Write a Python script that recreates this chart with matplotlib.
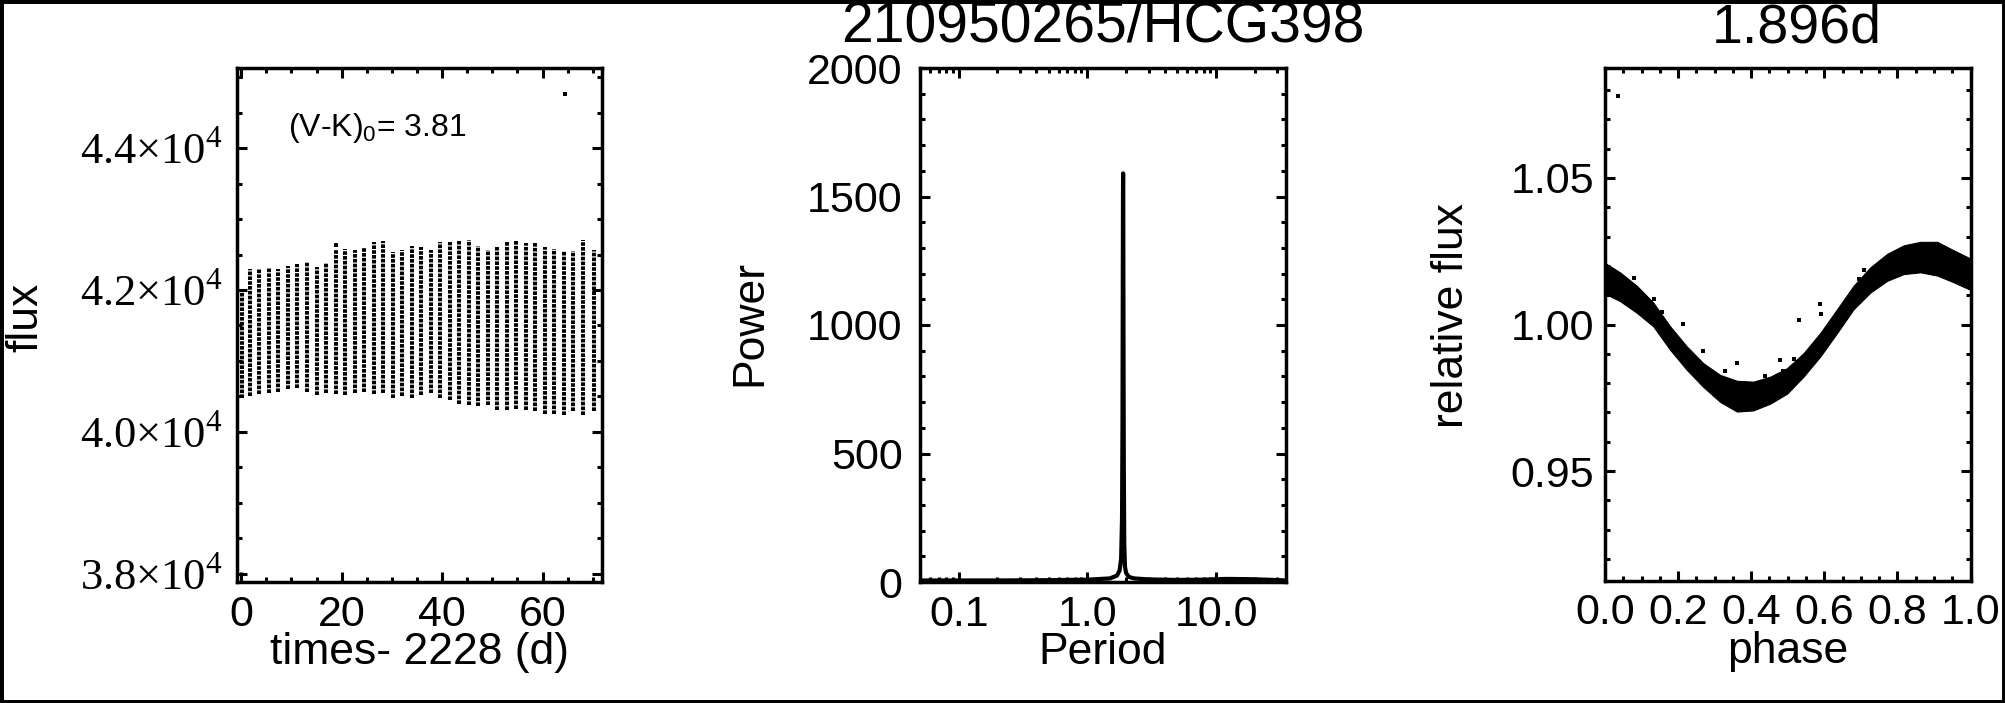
import matplotlib
matplotlib.use("Agg")
import matplotlib.pyplot as plt
from matplotlib.ticker import MultipleLocator, FixedLocator, FuncFormatter, LogLocator, NullFormatter
from matplotlib.patches import Rectangle

# ---------------- data ----------------
# Light curve: each rotation cycle shows as a vertical column of points
cycle_time = [0.1, 1.75, 3.61, 5.54, 7.40, 9.26, 11.18, 13.04, 15.03, 16.89,
              18.82, 20.68, 22.60, 24.53, 26.39, 28.31, 30.17, 32.10, 34.02, 35.88,
              37.81, 39.67, 41.59, 43.45, 45.31, 47.24, 49.10, 51.02, 52.88, 54.81,
              56.67, 58.59, 60.52, 62.38, 64.30, 66.16, 68.15, 70.15]
cycle_max = [41980, 42290, 42290, 42310, 42290, 42340, 42370, 42390, 42330, 42380,
             42580, 42580, 42570, 42600, 42670, 42690, 42530, 42560, 42620, 42610,
             42570, 42680, 42670, 42690, 42710, 42620, 42560, 42610, 42670, 42690,
             42660, 42670, 42610, 42580, 42550, 42550, 42710, 42570]
cycle_min = [40480, 40500, 40530, 40550, 40560, 40600, 40620, 40570, 40520, 40550,
             40530, 40520, 40550, 40570, 40530, 40550, 40480, 40500, 40480, 40520,
             40550, 40480, 40450, 40400, 40380, 40360, 40380, 40310, 40310, 40330,
             40310, 40290, 40260, 40260, 40240, 40290, 40240, 40290]
lc_out_time = [18.8, 64.5]
lc_out_flux = [42640, 44760]
vk_text = "(V-K)$_\\mathsf{0}$= 3.81"
star_name = "210950265/HCG398"

# Periodogram
period = [0.05, 0.08, 0.1, 0.2, 0.5, 1.0, 1.5, 1.7, 1.78, 1.83, 1.86, 1.875, 1.885,
          1.892, 1.896, 1.902, 1.91, 1.92, 1.935, 1.96, 2.0, 2.1, 2.3, 3.0, 5.0,
          8.0, 12.0, 18.0, 25.0, 35.0]
power = [6, 6, 6, 6, 7, 9, 14, 25, 45, 90, 250, 600, 1150, 1500, 1590, 1400, 900,
         450, 150, 60, 35, 20, 14, 10, 8, 9, 12, 11, 9, 6]
best_period_label = "1.896d"

# Phase-folded light curve: envelope of the dense band of points
phase_grid = [0.0, 0.041, 0.087, 0.132, 0.178, 0.224, 0.269, 0.315, 0.361, 0.406,
              0.452, 0.498, 0.543, 0.589, 0.635, 0.680, 0.726, 0.772, 0.817, 0.863,
              0.909, 0.954, 1.0]
phase_upper = [1.0210, 1.0178, 1.0132, 1.0075, 0.9994, 0.9925, 0.9868, 0.9828,
               0.9808, 0.9805, 0.9822, 0.9851, 0.9902, 0.9971, 1.0052, 1.0132,
               1.0195, 1.0241, 1.0270, 1.0282, 1.0282, 1.0253, 1.0225]
phase_lower = [1.0105, 1.0080, 1.0040, 0.9994, 0.9914, 0.9845, 0.9787, 0.9736,
               0.9703, 0.9707, 0.9730, 0.9764, 0.9822, 0.9891, 0.9971, 1.0052,
               1.0109, 1.0149, 1.0172, 1.0178, 1.0167, 1.0144, 1.0118]
phase_out_x = [0.036, 0.078, 0.135, 0.155, 0.213, 0.269, 0.327, 0.361, 0.438, 0.479,
               0.487, 0.516, 0.530, 0.589, 0.591, 0.694, 0.708]
phase_out_y = [1.078, 1.0159, 1.0086, 1.0043, 1.0002, 0.9908, 0.9843, 0.9868, 0.9824,
               0.9879, 0.9843, 0.9883, 1.0015, 1.0069, 1.0037, 1.0155, 1.0187]

# ---------------- style ----------------
plt.rcParams['font.family'] = ['Liberation Sans', 'DejaVu Sans']
plt.rcParams['mathtext.fontset'] = 'custom'
plt.rcParams['mathtext.rm'] = 'Liberation Serif'
plt.rcParams['mathtext.sf'] = 'Liberation Sans'
plt.rcParams['axes.linewidth'] = 2.5

TICK = 31
LAB = 32

W, H = 2005, 703
fig = plt.figure(figsize=(W / 100, H / 100), dpi=100)


def add_ax(x0, x1, y0=68, y1=582):
    return fig.add_axes([x0 / W, 1 - y1 / H, (x1 - x0) / W, (y1 - y0) / H])


def style(ax, ypad=8):
    ax.tick_params(which='both', direction='in', top=True, right=True,
                   labelsize=TICK, width=2.2, color='black')
    ax.tick_params(which='major', length=7.5)
    ax.tick_params(which='minor', length=3.8)
    ax.tick_params(axis='x', pad=9)
    ax.tick_params(axis='y', pad=ypad)


def xlabel(ax, text, y=-0.16):
    ax.set_xlabel(text, fontsize=LAB)
    ax.xaxis.set_label_coords(0.5, y)
    ax.xaxis.label.set_verticalalignment('baseline')


def ylabel(ax, text, x, y=0.5):
    ax.set_ylabel(text, fontsize=LAB)
    ax.yaxis.set_label_coords(x, y)
    ax.yaxis.label.set_verticalalignment('center')


# ---------------- panel 1: light curve ----------------
ax1 = add_ax(236.5, 601.8)
ax1.vlines(cycle_time, cycle_min, cycle_max, colors='black', linewidth=2.9,
           linestyles=(0, (0.9, 0.3)))
ax1.plot(lc_out_time, lc_out_flux, 's', color='black', markersize=2.2, markeredgewidth=0)
ax1.set_xlim(-0.94, 71.8)
ax1.set_ylim(37887, 45127)
ax1.xaxis.set_major_locator(MultipleLocator(20))
ax1.xaxis.set_minor_locator(MultipleLocator(5))
ax1.yaxis.set_major_locator(MultipleLocator(2000))
ax1.yaxis.set_minor_locator(MultipleLocator(500))
ax1.yaxis.set_major_formatter(FuncFormatter(
    lambda v, p: r'$%.1f{\times}10^{4}$' % (v / 1e4)))
style(ax1, ypad=10)
ax1.tick_params(axis='y', labelsize=32)
xlabel(ax1, 'times- 2228 (d)')
ylabel(ax1, 'flux', -0.577, 0.515)
ax1.text(0.385, 0.883, vk_text, transform=ax1.transAxes, fontsize=23,
         ha='center', va='center')

# ---------------- panel 2: periodogram ----------------
ax2 = add_ax(920, 1286)
ax2.plot(period, power, color='black', linewidth=3.0)
ax2.set_xscale('log')
ax2.set_xlim(0.05, 35)
ax2.set_ylim(0, 2000)
ax2.xaxis.set_major_locator(FixedLocator([0.1, 1.0, 10.0]))
ax2.xaxis.set_minor_locator(LogLocator(base=10, subs=range(2, 10)))
ax2.xaxis.set_minor_formatter(NullFormatter())
ax2.xaxis.set_major_formatter(FuncFormatter(lambda v, p: '%.1f' % v))
ax2.yaxis.set_major_locator(MultipleLocator(500))
ax2.yaxis.set_minor_locator(MultipleLocator(100))
style(ax2, ypad=12.5)
xlabel(ax2, 'Period')
ylabel(ax2, 'Power', -0.464, 0.504)
ax2.set_title(star_name, fontsize=41, y=1.0506, pad=0, va='baseline')

# ---------------- panel 3: phased light curve ----------------
ax3 = add_ax(1605, 1970.5, 68, 581)
ax3.fill_between(phase_grid, phase_lower, phase_upper, color='black', linewidth=0.8)
ax3.plot(phase_out_x, phase_out_y, 's', color='black', markersize=3.0, markeredgewidth=0)
ax3.set_xlim(0, 1)
ax3.set_ylim(0.9125, 1.0875)
ax3.xaxis.set_major_locator(MultipleLocator(0.2))
ax3.xaxis.set_minor_locator(MultipleLocator(0.05))
ax3.xaxis.set_major_formatter(FuncFormatter(lambda v, p: '%.1f' % v))
ax3.yaxis.set_major_locator(FixedLocator([0.95, 1.00, 1.05]))
ax3.yaxis.set_minor_locator(MultipleLocator(0.01))
ax3.yaxis.set_major_formatter(FuncFormatter(lambda v, p: '%.2f' % v))
style(ax3, ypad=8)
xlabel(ax3, 'phase')
ylabel(ax3, 'relative flux', -0.42, 0.517)
ax3.text(0.525, 1.0506, best_period_label, transform=ax3.transAxes, fontsize=40,
         ha='center', va='baseline')

# figure frame
fig.patches.append(Rectangle((0, 0), 1, 1, transform=fig.transFigure, fill=False,
                             edgecolor='black', linewidth=5, zorder=10))

fig.savefig('out.png', dpi=100)
